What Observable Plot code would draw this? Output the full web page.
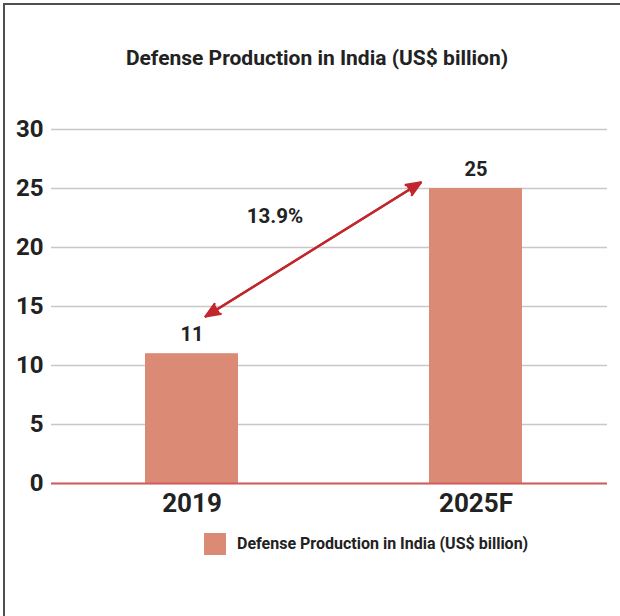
<!DOCTYPE html>
<html>
<head>
<meta charset="utf-8">
<script src="https://cdn.jsdelivr.net/npm/d3@7"></script>
<script src="https://cdn.jsdelivr.net/npm/@observablehq/plot@0.6"></script>
<style>
  html, body { margin: 0; padding: 0; background: #fff; }
  body { width: 620px; height: 616px; overflow: hidden; position: relative; font-family: Roboto, "Noto Sans", sans-serif; }
  #frame { position: absolute; left: 3px; top: 3px; width: 800px; height: 800px; border-left: 2px solid #505050; border-top: 2px solid #505050; }
  #title { position: absolute; left: 0; width: 634px; top: 48px; text-align: center; font: 700 21px Roboto, sans-serif; line-height: 1; color: #222; }
  #chart { position: absolute; left: 0; top: 100px; }
  #legend { position: absolute; left: 204px; top: 533px; display: flex; align-items: center; }
  #legend .sw { width: 22px; height: 22px; background: #db8b75; }
  #legend .lb { margin-left: 11px; font: 700 16px Roboto, sans-serif; color: #222; line-height: 1; }
</style>
</head>
<body>
<div id="frame"></div>
<div id="title"></div>
<div id="chart"></div>
<div id="legend"><div class="sw"></div><div class="lb"></div></div>
<script>
const titleText = "Defense Production in India (US$ billion)";
const years = ["2019", "2025F"];
const values = [11, 25];
const yTicks = [0, 5, 10, 15, 20, 25, 30];
const growthLabel = "13.9%";
const growthLabelAnchor = ["2019", 22.6];
const arrowFrom = ["2019", 13.44];
const arrowTo = ["2025F", 28.42];

const barColor = "#db8b75";
const arrowColor = "#c1272d";

const data = years.map((year, i) => ({year, value: values[i]}));
const arrowData = [{x1: arrowFrom[0], y1: arrowFrom[1], x2: arrowTo[0], y2: arrowTo[1]}];
const arrowDataRev = [{x1: arrowTo[0], y1: arrowTo[1], x2: arrowFrom[0], y2: arrowFrom[1]}];
const labelData = [{x: growthLabelAnchor[0], y: growthLabelAnchor[1], text: growthLabel}];

document.getElementById("title").textContent = titleText;
document.querySelector("#legend .lb").textContent = titleText;

const chart = Plot.plot({
  width: 620,
  height: 420,
  marginLeft: 51,
  marginRight: 13,
  marginTop: 29,
  marginBottom: 37,
  style: {fontFamily: "Roboto, sans-serif", color: "#222", background: "transparent", overflow: "visible"},
  x: {domain: years, paddingInner: 0.6725, paddingOuter: 0.315, align: 0.525, label: null},
  y: {domain: [0, 30], label: null},
  marks: [
    Plot.gridY(yTicks, {stroke: "#c8c8c8", strokeOpacity: 1, strokeWidth: 1.3}),
    Plot.barY(data, {x: "year", y: "value", fill: barColor}),
    Plot.ruleY([0], {stroke: "#d35c5c", strokeWidth: 2}),
    Plot.text(data, {x: "year", y: "value", text: d => String(d.value), dy: -19, fontSize: 20, fontWeight: 700, fill: "#222"}),
    Plot.arrow(arrowData, {x1: "x1", y1: "y1", x2: "x2", y2: "y2", stroke: arrowColor, fill: arrowColor, strokeWidth: 2.3, headAngle: 45, headLength: 10, insetStart: 16, insetEnd: 65}),
    Plot.arrow(arrowDataRev, {x1: "x1", y1: "y1", x2: "x2", y2: "y2", stroke: arrowColor, fill: arrowColor, strokeWidth: 2.3, headAngle: 45, headLength: 10, insetStart: 65, insetEnd: 16}),
    Plot.text(labelData, {x: "x", y: "y", text: "text", dx: 83, fontSize: 20.5, fontWeight: 700, fill: "#222"}),
    Plot.axisY(yTicks, {tickSize: 0, tickPadding: 8, fontSize: 24, fontWeight: 700, fill: "#222", label: null}),
    Plot.axisX({tickSize: 0, tickPadding: 10, fontSize: 26, fontWeight: 700, fill: "#222", label: null})
  ]
});
document.getElementById("chart").appendChild(chart);
</script>
</body>
</html>
